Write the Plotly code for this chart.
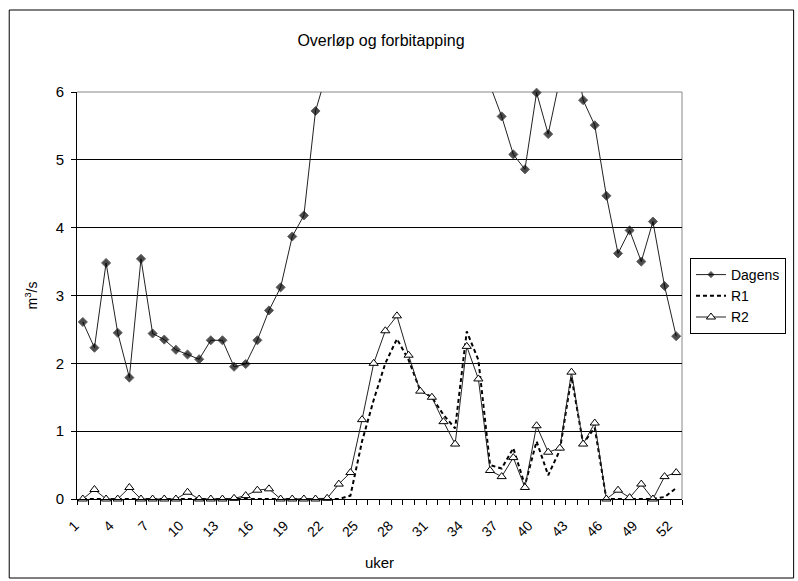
import plotly.graph_objects as go

weeks = list(range(1, 53))
tick_weeks = list(range(1, 53, 3))
tick_labels = [str(w) for w in tick_weeks]

dagens = [2.61, 2.23, 3.48, 2.45, 1.79, 3.54, 2.44, 2.35, 2.20, 2.13,
          2.06, 2.34, 2.34, 1.95, 1.99, 2.34, 2.78, 3.12, 3.87, 4.18,
          5.72, 6.30, 7.00, 7.60, 8.20, 8.80, 9.00, 8.60, 8.00, 7.50,
          7.20, 7.00, 6.80, 7.10, 6.60, 6.10, 5.64, 5.08, 4.86, 5.99,
          5.38, 6.25, 7.00, 5.88, 5.51, 4.47, 3.62, 3.96, 3.50, 4.09,
          3.14, 2.40]
r1 = [0, 0, 0, 0, 0, 0, 0, 0, 0, 0,
      0, 0, 0, 0, 0, 0, 0, 0, 0, 0,
      0, 0, 0, 0.05, 0.85, 1.46, 2.00, 2.36, 2.05, 1.60,
      1.50, 1.24, 1.04, 2.47, 2.05, 0.50, 0.45, 0.75, 0.20, 0.85,
      0.35, 0.72, 1.80, 0.82, 1.05, 0, 0, 0, 0, 0,
      0.03, 0.16]
r2 = [0, 0.14, 0, 0, 0.17, 0, 0, 0, 0, 0.10,
      0, 0, 0, 0.01, 0.05, 0.13, 0.15, 0, 0, 0,
      0, 0.01, 0.22, 0.39, 1.17, 2.00, 2.48, 2.70, 2.12, 1.59,
      1.50, 1.14, 0.81, 2.25, 1.77, 0.42, 0.33, 0.61, 0.17, 1.08,
      0.69, 0.75, 1.87, 0.81, 1.12, 0, 0.13, 0.02, 0.22, 0,
      0.33, 0.39]

YMAX = 6
FONT = "Liberation Sans, Arial, sans-serif"

fig = go.Figure()
fig.add_trace(go.Scatter(
    x=weeks, y=dagens, name="Dagens", mode="lines+markers",
    line=dict(color="#222222", width=1),
    marker=dict(symbol="diamond", color="black",
                size=[7 if v <= YMAX else 0 for v in dagens]),
    cliponaxis=False,
))
fig.add_trace(go.Scatter(
    x=weeks, y=r1, name="R1", mode="lines",
    line=dict(color="black", width=2, dash="4px,3px"),
    cliponaxis=False,
))
fig.add_trace(go.Scatter(
    x=weeks, y=r2, name="R2", mode="lines+markers",
    line=dict(color="#222222", width=1),
    marker=dict(symbol="triangle-up", color="white", size=8,
                line=dict(color="black", width=1)),
    cliponaxis=False,
))

L, R, T, B = 77, 114, 92, 82
W, H = 798, 581
pw, ph = W - L - R, H - T - B

def px_x(px):
    return (px - L) / pw

def px_y(py):
    return (H - B - py) / ph

fig.update_layout(
    width=W, height=H,
    margin=dict(l=L, r=R, t=T, b=B, pad=0),
    paper_bgcolor="white", plot_bgcolor="white",
    font=dict(family=FONT, size=14, color="black"),
    title=dict(text="Overløp og forbitapping", xref="container",
               x=381 / W, xanchor="center",
               y=1 - 40 / H, yanchor="middle", font=dict(size=16)),
    showlegend=True,
    legend=dict(x=px_x(692), y=px_y(258), xanchor="left", yanchor="top",
                bordercolor="black", borderwidth=1, bgcolor="white",
                font=dict(size=14), itemwidth=30, tracegroupgap=0),
    xaxis=dict(range=[0.5, 52.5], tickmode="array", tickvals=tick_weeks,
               ticktext=tick_labels, tickangle=-45, ticks="",
               ticklabelstandoff=12, ticklabelshift=-8,
               showgrid=False, zeroline=False, showline=True,
               linecolor="black", linewidth=1,
               tickfont=dict(size=14),
               minor=dict(tickmode="linear", tick0=0.5, dtick=1,
                          ticks="outside", ticklen=5, tickcolor="black",
                          showgrid=False),
               title=dict(text="uker", font=dict(size=15), standoff=18)),
    yaxis=dict(range=[0, YMAX], dtick=1, ticks="outside", ticklen=5,
               tickcolor="black", showgrid=True, gridcolor="black",
               gridwidth=1, zeroline=False, showline=True,
               linecolor="black", linewidth=1, tickfont=dict(size=15),
               ticklabelstandoff=4,
               title=dict(text="m<sup>3</sup>/s", font=dict(size=14),
                          standoff=14)),
    shapes=[
        dict(type="rect", xref="paper", yref="paper",
             x0=px_x(9), x1=px_x(796), y0=px_y(578), y1=px_y(10),
             line=dict(color="black", width=1), fillcolor="rgba(0,0,0,0)",
             layer="below"),
        dict(type="line", xref="paper", yref="paper", x0=0, x1=1, y0=1, y1=1,
             line=dict(color="#888888", width=1), layer="below"),
        dict(type="line", xref="paper", yref="paper", x0=1, x1=1, y0=0, y1=1,
             line=dict(color="#888888", width=1), layer="below"),
    ],
)

fig.write_html("out.html")
